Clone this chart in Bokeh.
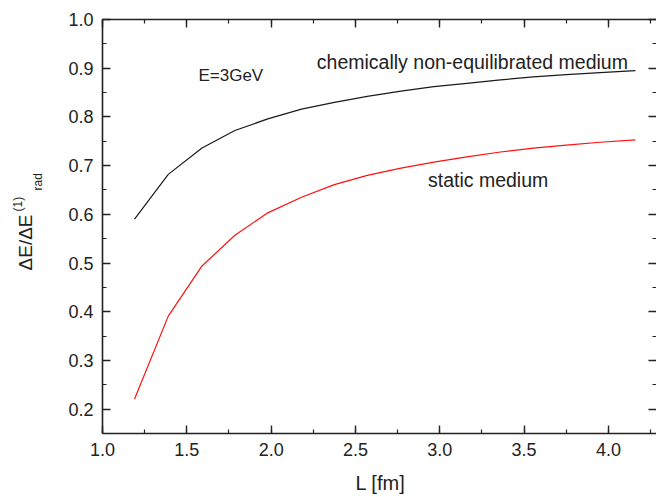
from bokeh.plotting import figure
from bokeh.models import (Label, LinearAxis, SingleIntervalTicker, Range1d,
                          PrintfTickFormatter, CustomJSTickFormatter)
from bokeh.embed import file_html
from bokeh.resources import INLINE
from math import pi

# ---- data ----
L_fm = [1.19, 1.39, 1.59, 1.785, 1.98, 2.18, 2.375, 2.57, 2.77, 2.965,
        3.16, 3.36, 3.555, 3.75, 3.95, 4.16]
chem_noneq = [0.590, 0.682, 0.736, 0.772, 0.796, 0.816, 0.830, 0.842, 0.853,
              0.862, 0.869, 0.876, 0.882, 0.887, 0.891, 0.895]
static = [0.221, 0.391, 0.494, 0.557, 0.603, 0.635, 0.661, 0.680, 0.695,
          0.707, 0.718, 0.728, 0.736, 0.742, 0.748, 0.753]
x_axis = (1.0, 4.285)     # axis extent
y_axis = (0.15, 1.0)
# the frame fills the canvas; axes sit at fixed positions inside it
x_view = (0.3952, 4.285)
y_view = (0.0186, 1.0390)

FONT = "Liberation Sans"
TXT = "#222222"

p = figure(width=656, height=497,
           x_range=Range1d(*x_view), y_range=Range1d(*y_view),
           output_backend="svg", toolbar_location=None,
           min_border_left=0, min_border_right=0,
           min_border_top=0, min_border_bottom=0)
p.grid.visible = False
p.outline_line_color = None
p.background_fill_color = "white"
p.border_fill_color = "white"

xt = SingleIntervalTicker(interval=0.5, num_minor_ticks=2)
yt = SingleIntervalTicker(interval=0.1, num_minor_ticks=2)

def style(ax, labels=True, standoff=9):
    ax.axis_line_color = "#222222"
    ax.axis_line_width = 1.6
    ax.major_tick_line_color = "#222222"
    ax.minor_tick_line_color = "#222222"
    ax.major_tick_line_width = 1.4
    ax.minor_tick_line_width = 1.2
    ax.major_tick_in = 8
    ax.major_tick_out = 0
    ax.minor_tick_in = 4
    ax.minor_tick_out = 0
    if labels:
        ax.major_label_text_font = FONT
        ax.major_label_text_font_size = "18px"
        ax.major_label_text_color = TXT
        ax.major_label_standoff = standoff
    else:
        ax.formatter = CustomJSTickFormatter(code="return ''")
        ax.major_label_text_font_size = "0px"
        ax.major_label_standoff = 0

xa = p.xaxis[0]
ya = p.yaxis[0]
xa.ticker = xt
ya.ticker = yt
xa.formatter = PrintfTickFormatter(format="%.1f")
ya.formatter = PrintfTickFormatter(format="%.1f")
style(xa, standoff=10)
style(ya, standoff=9)
xa.fixed_location = y_axis[0]
xa.bounds = x_axis
ya.fixed_location = x_axis[0]
ya.bounds = y_axis

top = LinearAxis(ticker=xt, fixed_location=y_axis[1], bounds=x_axis)
style(top, labels=False)
p.add_layout(top, "above")
right = LinearAxis(ticker=yt, fixed_location=x_axis[1], bounds=y_axis)
style(right, labels=False)
right.axis_line_color = None
p.add_layout(right, "right")

p.line(L_fm, chem_noneq, line_color="#1a1a1a", line_width=1.2)
p.line(L_fm, static, line_color="#ff1010", line_width=1.2)

def lab(x, y, t, size, **kw):
    p.add_layout(Label(x=x, y=y, text=t, text_font=FONT, text_font_size=size,
                       text_color=TXT, **kw))

lab(1.569, 0.865, "E=3GeV", "17px")
lab(2.271, 0.891, "chemically non-equilibrated medium", "19.5px")
lab(2.93, 0.648, "static medium", "19.5px")

# axis titles
lab(2.648, 0.049, "L [fm]", "20px", text_align="center",
    text_baseline="alphabetic")
lab(0.5434, 0.4847, "\u0394E/\u0394E", "19px", angle=pi / 2,
    text_align="left", text_baseline="middle")
lab(0.5019, 0.6058, "(1)", "12px", angle=pi / 2,
    text_align="left", text_baseline="middle")
lab(0.6176, 0.6489, "rad", "12px", angle=pi / 2,
    text_align="left", text_baseline="middle")

open("out.html", "w").write(file_html(p, INLINE))
